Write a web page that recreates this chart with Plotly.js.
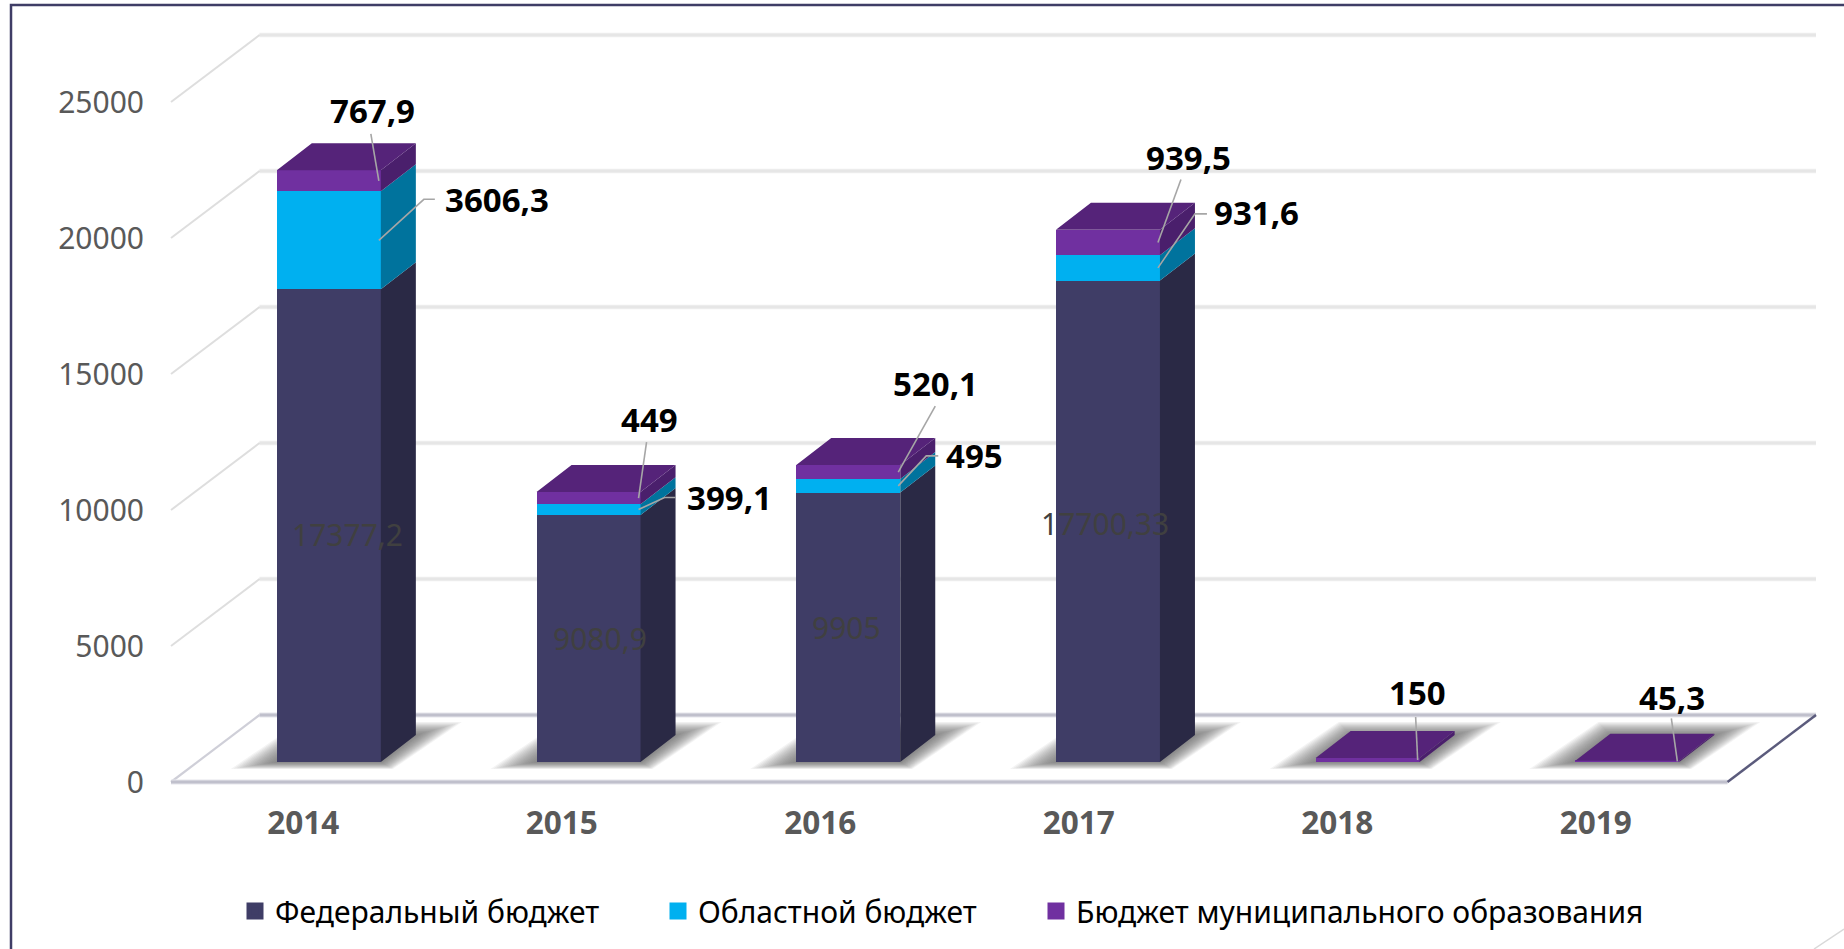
<!DOCTYPE html>
<html><head><meta charset="utf-8">
<script src="https://cdn.plot.ly/plotly-3.0.1.min.js"></script>
<style>html,body{margin:0;padding:0;background:#fff;overflow:hidden}#c{width:1844px;height:949px}</style>
</head><body><div id="c"></div>
<script>
const years = ['2014','2015','2016','2017','2018','2019'];
const federal = [17377.2, 9080.9, 9905, 17700.33, 0, 0];
const regional = [3606.3, 399.1, 495, 931.6, 0, 0];
const municipal = [767.9, 449, 520.1, 939.5, 150, 45.3];
const federalLabels = ['17377,2','9080,9','9905','17700,33','',''];
const regionalLabels = ['3606,3','399,1','495','931,6','',''];
const municipalLabels = ['767,9','449','520,1','939,5','150','45,3'];
const seriesNames = ['Федеральный бюджет','Областной бюджет','Бюджет муниципального образования'];
const yTicks = [0,5000,10000,15000,20000,25000];

// label offsets in px from the segment anchor
const munOff = [[-8,-70],[9,-79],[35,-89],[29,-85],[-2,-67],[-7,-64]];
const regOff = [[116,-41],[89,-12],[74,-30],[97,-55]];
const fedOff = [[19,9],[11,0],[-2,0],[-3,2]];
// leader lines in px from the anchor
const munLead = [[[-8,-47]],[[8,-56]],[[37,-66]],[[23,-63]],[[-2,-43]],[[-6,-43]]];
const regLead = [[[45,-41],[56,-41]],[[26,-12],[37,-12]],[[28,-30],[40,-30]],[[37,-54],[49,-54]]];

const W=1844,H=949;
const pxCat=259.7, pxVal=136/5000;
const X0=171,X1=1816,YF=782,YB=35,PAD=8;     // floor box in px, plus room so lines are not clipped
const catAt0=X0+pxCat/2;
const cx=p=>p/pxCat, cv=p=>p/pxVal;
const xL=-0.5, xR=(X1-catAt0)/pxCat, yTop=(YF-YB)/pxVal;
const xRange=[xL-cx(PAD),xR+cx(PAD)];
const yRange=[-cv(PAD),yTop+cv(PAD)];
const dom=[1-(YF+PAD)/H,1-(YB-PAD)/H];
const planeShift=cv(20);                      // bars stand 20px up the floor
const wallDx=cx(88.5), wallDy=cv(67);
const barShift=cx(28), barW=cx(104), depthX=cx(35), depthY=cv(27);

const bars=years.map((_,i)=>i+barShift);
const data=[], ann=[];

// walls and floor (main subplot)
const gx=[],gy=[],dxs=[],dys=[];
yTicks.slice(1).forEach(v=>{
  gx.push(xL+wallDx,xR,null); gy.push(v+wallDy,v+wallDy,null);
  dxs.push(xL,xL+wallDx,null); dys.push(v,v+wallDy,null);
});
const seg=(x,y,c,w)=>({type:'scatter',mode:'lines',x,y,line:{color:c,width:w},hoverinfo:'skip',showlegend:false,xaxis:'x',yaxis:'y'});
data.push(seg(gx,gy,'#eeeeee',4.5));
data.push(seg(gx,gy,'#e6e6e6',2.5));
data.push(seg(dxs,dys,'#dedede',2));
data.push(seg([xL,xL+wallDx],[0,wallDy],'#cfcfd8',2.2));
data.push(seg([xL+wallDx,xR],[wallDy,wallDy],'#e6e6ec',5));
data.push(seg([xL+wallDx,xR],[wallDy,wallDy],'#c0c0cc',3));
data.push(seg([xL,xR-wallDx],[0,0],'#e6e6ec',5));
data.push(seg([xL,xR-wallDx],[0,0],'#c0c0cc',3));
data.push(seg([xR-wallDx,xR],[0,wallDy],'#5b5b7c',2.5));

// soft floor shadows
const shadowSteps=16;
for(let n=shadowSteps;n>=1;n--){
  const k=n/shadowSteps, xs=[],ys=[];
  bars.forEach(b=>{
    const l=b-barW/2,r=b+barW/2,s=planeShift;
    const a=cx(46*k),c=cx(12*k),d=cv(7*k),e=cv(13*k);
    xs.push(l-a,r+c,r+depthX+a,l+depthX-c,l-a,null);
    ys.push(s-d,s-d,s+depthY+e,s+depthY+e,s-d,null);
  });
  data.push({type:'scatter',mode:'lines',x:xs,y:ys,fill:'toself',fillcolor:'rgba(90,90,90,0.065)',line:{width:0},hoverinfo:'skip',showlegend:false,xaxis:'x',yaxis:'y'});
}

// stacked bars
const front=['#3F3D66','#00B0F0','#7030A0'], side=['#2A2945','#00739D','#4A1F6C'], topCol='#552379';
[federal,regional,municipal].forEach((v,s)=>{
  data.push({type:'bar',x:bars,y:v,width:barW,name:seriesNames[s],marker:{color:front[s]},showlegend:false,hoverinfo:'x+y',xaxis:'x',yaxis:'y2'});
});
// sides and tops
const cum=[0,0,0,0,0,0];
[federal,regional,municipal].forEach((v,s)=>{
  const xs=[],ys=[];
  v.forEach((val,i)=>{
    if(!val){return;}
    const r=bars[i]+barW/2,a=cum[i],b=a+val;
    xs.push(r,r+depthX,r+depthX,r,r,null); ys.push(a,a+depthY,b+depthY,b,a,null);
    cum[i]=b;
  });
  data.push({type:'scatter',mode:'lines',x:xs,y:ys,fill:'toself',fillcolor:side[s],line:{width:0},hoverinfo:'skip',showlegend:false,xaxis:'x',yaxis:'y2'});
});
{
  const xs=[],ys=[];
  cum.forEach((t,i)=>{
    const l=bars[i]-barW/2,r=bars[i]+barW/2;
    xs.push(l,r,r+depthX,l+depthX,l,null); ys.push(t,t,t+depthY,t+depthY,t,null);
  });
  data.push({type:'scatter',mode:'lines',x:xs,y:ys,fill:'toself',fillcolor:topCol,line:{width:0},hoverinfo:'skip',showlegend:false,xaxis:'x',yaxis:'y2'});
}

// legend keys
seriesNames.forEach((n,s)=>{
  data.push({type:'bar',x:[0],y:[null],name:n,legend:s?'legend'+(s+1):'legend',marker:{color:front[s],line:{color:front[s],width:5}},hoverinfo:'skip',xaxis:'x',yaxis:'y2',showlegend:true});
});

// labels and leaders
const lx=[],ly=[];
function mid(i,s){
  const st=[federal[i],regional[i],municipal[i]];
  let a=0; for(let k=0;k<s;k++)a+=st[k];
  return a+st[s]/2;
}
function leader(i,s,pts){
  const ax=bars[i]+barW/2-cx(2), ay=mid(i,s);
  lx.push(ax); ly.push(ay);
  pts.forEach(p=>{lx.push(ax+cx(p[0]));ly.push(ay-cv(p[1]));});
  lx.push(null); ly.push(null);
}
const note=(x,y,text,off,font)=>ann.push({x,y,xref:'x',yref:'y2',text,showarrow:false,xshift:off[0],yshift:-off[1],font,xanchor:'center',yanchor:'middle'});
const boldF={family:'Noto Sans, sans-serif',size:33,color:'#000',weight:700};
const fedF={family:'Noto Sans, sans-serif',size:30,color:'#404040'};
years.forEach((_,i)=>{
  const r=bars[i]+barW/2;
  note(r,mid(i,2),'<b>'+municipalLabels[i]+'</b>',munOff[i],boldF);
  leader(i,2,munLead[i]);
  if(federal[i]){
    note(r,mid(i,1),'<b>'+regionalLabels[i]+'</b>',regOff[i],boldF);
    leader(i,1,regLead[i]);
    note(bars[i],mid(i,0),federalLabels[i],fedOff[i],fedF);
  }
});
data.push({type:'scatter',mode:'lines',x:lx,y:ly,line:{color:'#a6a6a6',width:1.6},hoverinfo:'skip',showlegend:false,xaxis:'x',yaxis:'y2'});

const legendBase=(px)=>({x:px/W,y:1-911/H,xanchor:'left',yanchor:'middle',orientation:'h',bgcolor:'rgba(0,0,0,0)',font:{family:'Noto Sans, sans-serif',size:30,color:'#000'},itemclick:false,itemdoubleclick:false});

const layout={
  width:W,height:H,margin:{l:0,r:0,t:0,b:0,autoexpand:false},
  paper_bgcolor:'#fff',plot_bgcolor:'rgba(0,0,0,0)',barmode:'stack',showlegend:true,
  legend:legendBase(235),legend2:legendBase(658),legend3:legendBase(1036),
  hovermode:'closest',
  xaxis:{domain:[(X0-PAD)/W,(X1+PAD)/W],range:xRange,tickmode:'array',tickvals:years.map((_,i)=>0.009+i*0.9954),ticktext:years,
    ticks:'outside',ticklen:5,tickcolor:'rgba(0,0,0,0)',showgrid:false,zeroline:false,showline:false,
    tickfont:{family:'Noto Sans, sans-serif',size:31.5,color:'#595959',weight:700},fixedrange:true},
  yaxis:{domain:dom,range:yRange,tickmode:'array',tickvals:yTicks,ticktext:yTicks.map(String),
    ticks:'outside',ticklen:12,tickcolor:'rgba(0,0,0,0)',showgrid:false,zeroline:false,showline:false,
    tickfont:{family:'Noto Sans, sans-serif',size:30,color:'#595959'},fixedrange:true},
  yaxis2:{domain:dom,overlaying:'y',range:[yRange[0]-planeShift,yRange[1]-planeShift],visible:false,fixedrange:true},
  annotations:ann,
  shapes:[
    {type:'path',xref:'paper',yref:'paper',path:`M ${11/W} 0 L ${11/W} ${1-5/H} L 1 ${1-5/H}`,line:{color:'#3F3D66',width:2.5}},
    {type:'line',xref:'paper',yref:'paper',x0:1814/W,y0:0,x1:1,y1:1-929/H,line:{color:'#d9d9d9',width:1.5}}
  ]
};
Plotly.newPlot('c',data,layout,{displayModeBar:false,responsive:false});
</script></body></html>
